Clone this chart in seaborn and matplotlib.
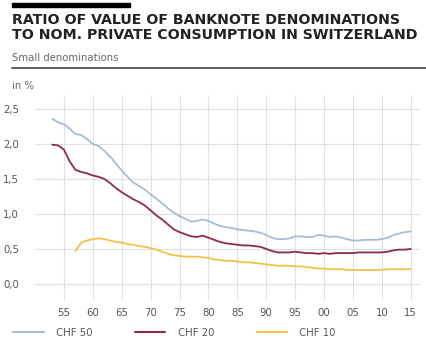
import numpy as np
import pandas as pd
import matplotlib
matplotlib.use("Agg")
import matplotlib.pyplot as plt
from matplotlib.lines import Line2D
import seaborn as sns

# Ratio of banknote value to nominal private consumption, in %
years_50 = list(range(1953, 2016))
chf50 = [2.36, 2.31, 2.28, 2.22, 2.14, 2.13, 2.07, 2.00, 1.97, 1.90,
         1.82, 1.72, 1.62, 1.53, 1.45, 1.40, 1.35, 1.28, 1.22, 1.15,
         1.08, 1.02, 0.97, 0.93, 0.89, 0.90, 0.92, 0.90, 0.86, 0.83,
         0.81, 0.80, 0.78, 0.77, 0.76, 0.75, 0.73, 0.70, 0.66, 0.64,
         0.64, 0.65, 0.68, 0.68, 0.67, 0.67, 0.70, 0.69, 0.67, 0.68,
         0.66, 0.64, 0.62, 0.62, 0.63, 0.63, 0.63, 0.64, 0.66, 0.70,
         0.72, 0.74, 0.75]

years_20 = list(range(1953, 2016))
chf20 = [1.99, 1.98, 1.92, 1.75, 1.63, 1.60, 1.58, 1.55, 1.53, 1.50,
         1.44, 1.37, 1.31, 1.26, 1.21, 1.17, 1.12, 1.05, 0.98, 0.92,
         0.85, 0.78, 0.74, 0.71, 0.68, 0.67, 0.69, 0.66, 0.63, 0.60,
         0.58, 0.57, 0.56, 0.55, 0.55, 0.54, 0.53, 0.50, 0.47, 0.45,
         0.45, 0.45, 0.46, 0.45, 0.44, 0.44, 0.43, 0.44, 0.43, 0.44,
         0.44, 0.44, 0.44, 0.45, 0.45, 0.45, 0.45, 0.45, 0.46, 0.48,
         0.49, 0.49, 0.50]

years_10 = list(range(1957, 2016))
chf10 = [0.47, 0.59, 0.62, 0.64, 0.65, 0.64, 0.62, 0.60, 0.59, 0.57,
         0.56, 0.54, 0.53, 0.51, 0.49, 0.46, 0.43, 0.41, 0.40, 0.39,
         0.39, 0.39, 0.38, 0.37, 0.35, 0.34, 0.33, 0.33, 0.32, 0.31,
         0.31, 0.30, 0.29, 0.28, 0.27, 0.26, 0.26, 0.26, 0.25, 0.25,
         0.24, 0.23, 0.22, 0.22, 0.21, 0.21, 0.21, 0.20, 0.20, 0.20,
         0.20, 0.20, 0.20, 0.20, 0.21, 0.21, 0.21, 0.21, 0.21]

series = ["CHF 50", "CHF 20", "CHF 10"]
colors = ["#a7bdd4", "#8e2c47", "#f3c24a"]

x_ticks = list(range(1955, 2016, 5))
x_labels = ["55", "60", "65", "70", "75", "80", "85", "90", "95",
            "00", "05", "10", "15"]
y_ticks = [0.0, 0.5, 1.0, 1.5, 2.0, 2.5]
y_labels = ["0,0", "0,5", "1,0", "1,5", "2,0", "2,5"]

df = pd.concat([
    pd.DataFrame({"year": years_50, "value": chf50, "series": "CHF 50"}),
    pd.DataFrame({"year": years_20, "value": chf20, "series": "CHF 20"}),
    pd.DataFrame({"year": years_10, "value": chf10, "series": "CHF 10"}),
], ignore_index=True)

sns.set_theme(style="white")
plt.rcParams["font.family"] = ["DejaVu Sans"]

W, H = 426, 344
fig = plt.figure(figsize=(W / 100, H / 100), dpi=100)
ax = fig.add_axes([35 / W, 1 - 300 / H, (420 - 35) / W, (300 - 95) / H])

sns.lineplot(data=df, x="year", y="value", hue="series",
             hue_order=series, palette=colors, linewidth=1.3,
             legend=False, ax=ax)

ax.set_xlim(1950, 2016.6)
ax.set_ylim(-0.23, 2.7)
ax.set_xticks(x_ticks)
ax.set_xticklabels(x_labels)
ax.set_yticks(y_ticks)
ax.set_yticklabels(y_labels)
ax.set_xlabel("")
ax.set_ylabel("")
ax.grid(True, color="#e0e0e0", linewidth=0.8)
ax.set_axisbelow(True)
for s in ax.spines.values():
    s.set_visible(False)
ax.tick_params(axis="both", length=0, labelsize=7.3, colors="#555555")
ax.tick_params(axis="x", pad=6)
for lab in ax.get_yticklabels():
    lab.set_horizontalalignment("left")
ax.tick_params(axis="y", pad=23)

# heading block
fig.patches.append(plt.Rectangle((12 / W, 1 - 7 / H), 118 / W, 4 / H,
                                 transform=fig.transFigure,
                                 color="black", zorder=5))
fig.text(12 / W, 1 - 13 / H,
         "RATIO OF VALUE OF BANKNOTE DENOMINATIONS\nTO NOM. PRIVATE CONSUMPTION IN SWITZERLAND",
         ha="left", va="top", fontsize=10.2, fontweight="heavy",
         color="#222222", linespacing=1.12)
fig.text(12 / W, 1 - 58 / H, "Small denominations", ha="left", va="center",
         fontsize=7.3, color="#666666")
fig.add_artist(Line2D([12 / W, 1.0], [1 - 68 / H, 1 - 68 / H],
                      transform=fig.transFigure, color="#444444",
                      linewidth=1.2))
fig.text(12 / W, 1 - 86 / H, "in %", ha="left", va="center",
         fontsize=7.3, color="#666666")

handles = [Line2D([0], [0], color=c, linewidth=1.5) for c in colors]
fig.legend(handles, series, loc="center left",
           bbox_to_anchor=(4 / W, 1 - 333 / H), ncol=3, frameon=False,
           fontsize=7.3, handlelength=3.0, handletextpad=1.2,
           columnspacing=4.2, labelcolor="#555555")

fig.savefig("out.png", dpi=100)
